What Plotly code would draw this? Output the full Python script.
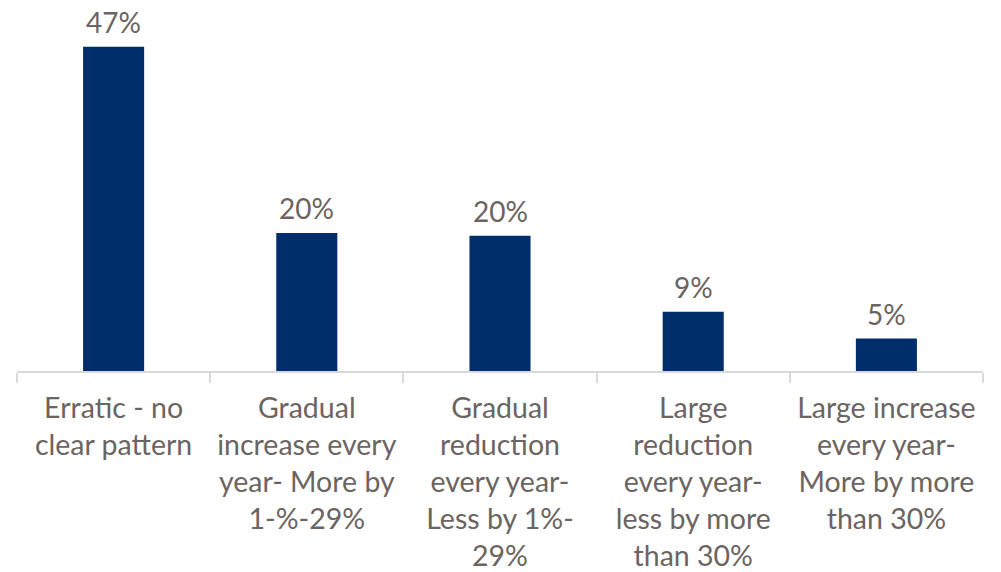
import plotly.graph_objects as go

categories = [
    "Erratic - no<br>clear pattern",
    "Gradual<br>increase every<br>year- More by<br>1-%-29%",
    "Gradual<br>reduction<br>every year-<br>Less by 1%-<br>29%",
    "Large<br>reduction<br>every year-<br>less by more<br>than 30%",
    "Large increase<br>every year-<br>More by more<br>than 30%",
]
values = [47.0, 20.0, 19.6, 8.6, 4.7]
labels = ["47%", "20%", "20%", "9%", "5%"]

BAR = "#002E6A"
TXT = "#6B6461"
FONT = "Lato"

fig = go.Figure(go.Bar(x=categories, y=values, marker=dict(color=BAR, line=dict(width=0))))

for c, v, t in zip(categories, values, labels):
    fig.add_annotation(x=c, y=v, text=t, showarrow=False, yanchor="bottom", yshift=6,
                       font=dict(family=FONT, size=28, color=TXT))

fig.update_layout(
    width=1001, height=572,
    margin=dict(l=17, r=18, t=26, b=201),
    paper_bgcolor="white", plot_bgcolor="white",
    bargap=0.684,
    showlegend=False,
    font=dict(family=FONT, size=28, color=TXT),
)
fig.update_xaxes(
    automargin=False,
    showline=True, linecolor="#D9D9D9", linewidth=1.5,
    ticks="outside", tickson="boundaries", ticklen=10, tickcolor="#D9D9D9", tickwidth=1.5,
    tickfont=dict(family=FONT, size=28.5, color=TXT),
    ticklabelstandoff=11,
    showgrid=False,
)
fig.update_yaxes(range=[0, 50], visible=False, showgrid=False, automargin=False)

fig.write_html("out.html", config={"displayModeBar": False},
               post_script="document.body.style.margin='0';document.body.style.overflow='hidden';")
